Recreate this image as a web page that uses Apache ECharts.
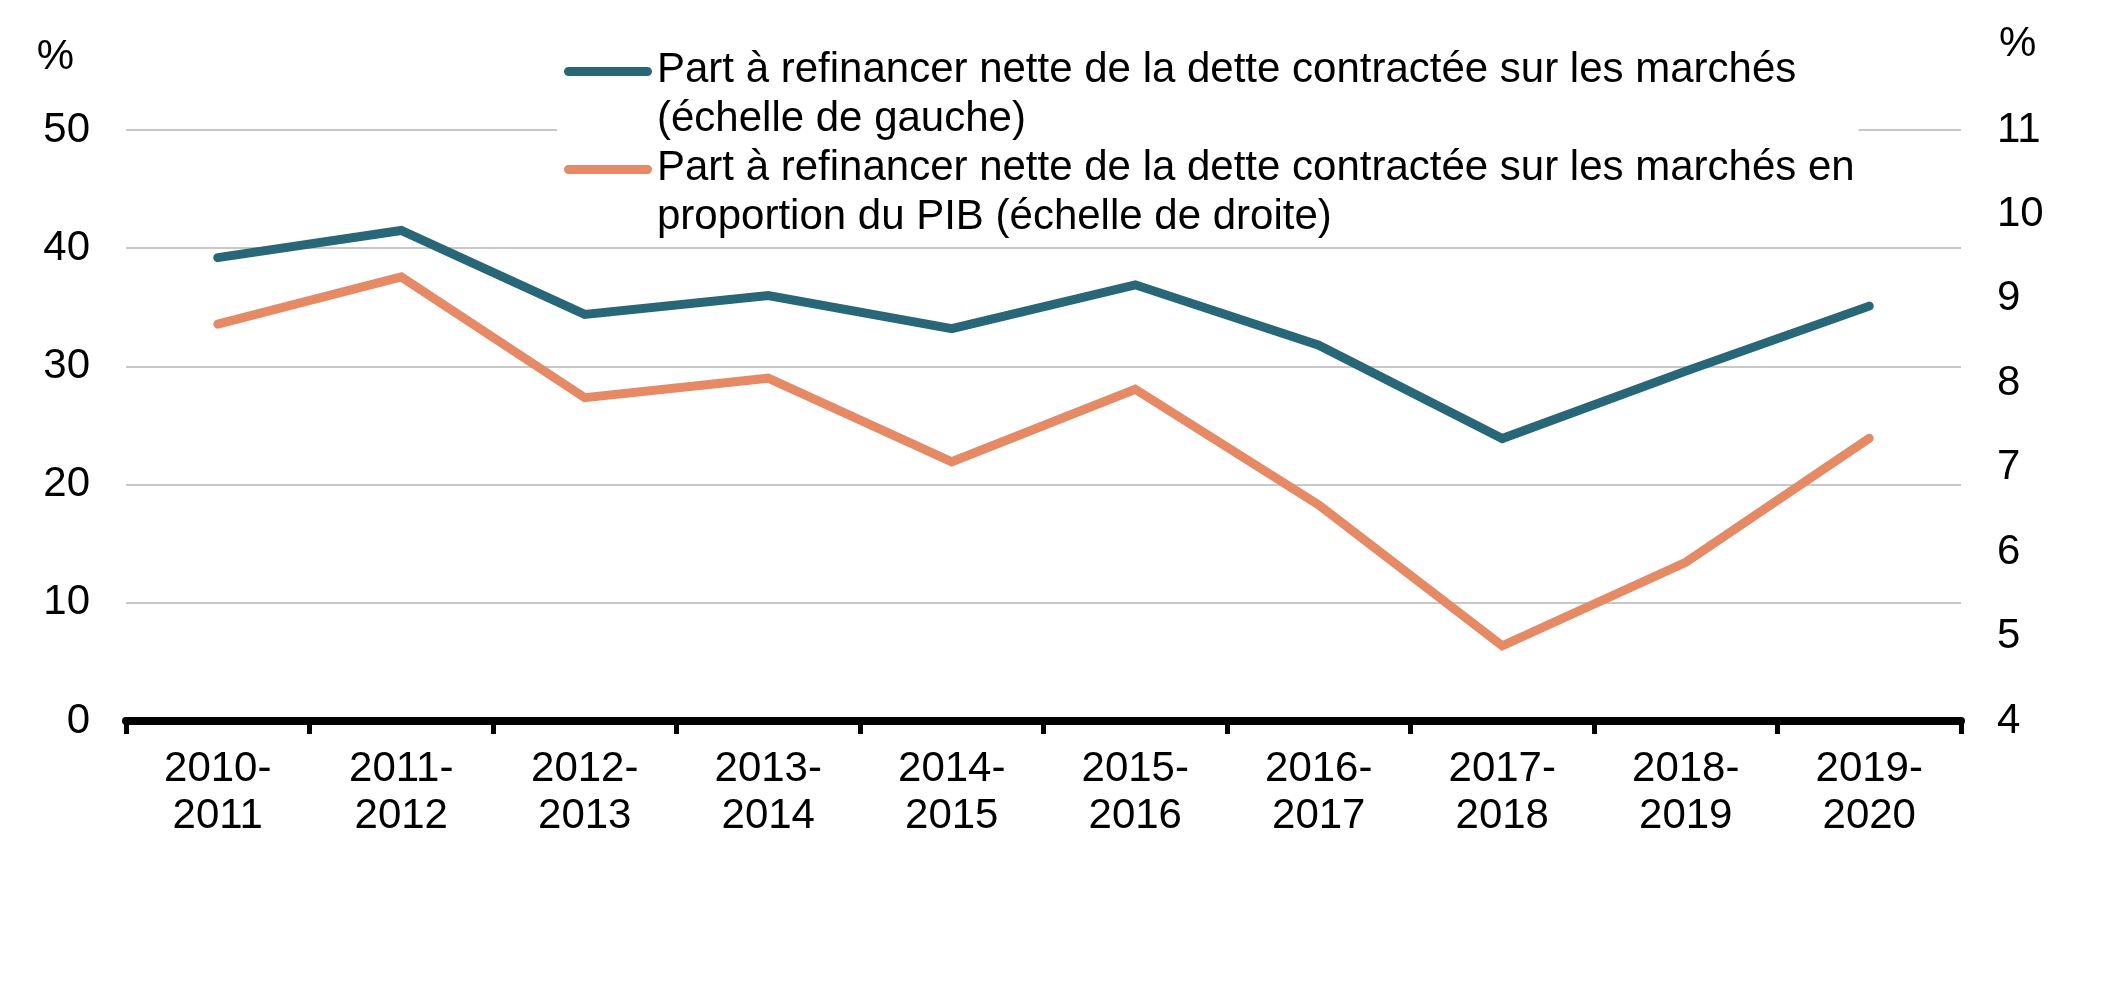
<!DOCTYPE html>
<html>
<head>
<meta charset="utf-8">
<script src="https://cdn.jsdelivr.net/npm/echarts@6/dist/echarts.min.js"></script>
<style>
  html, body { margin: 0; padding: 0; background: #ffffff; }
  #chart { width: 2103px; height: 997px; }
</style>
</head>
<body>
<div id="chart"></div>
<script>
// ---- Data ----
const categories = ['2010-2011', '2011-2012', '2012-2013', '2013-2014', '2014-2015',
                    '2015-2016', '2016-2017', '2017-2018', '2018-2019', '2019-2020'];
const shareName = 'Part à refinancer nette de la dette contractée sur les marchés\n(échelle de gauche)';
const gdpName = 'Part à refinancer nette de la dette contractée sur les marchés en\nproportion du PIB (échelle de droite)';
const shareValues = [39.2, 41.5, 34.4, 36.0, 33.2, 36.9, 31.8, 23.9, 29.6, 35.1];
const gdpValues = [8.70, 9.26, 7.83, 8.06, 7.07, 7.93, 6.56, 4.89, 5.88, 7.35];
const leftTicks = { min: 0, max: 50, interval: 10 };
const rightTicks = { min: 4, max: 11, interval: 1 };
const unitLabel = '%';

// ---- Style ----
const FONT = "'Liberation Sans', Arial, sans-serif";
const BLUE = '#286778';
const ORANGE = '#e68a65';
const swatchIcon = 'path://M0,0 L88,0 L0,0 Z M4.5,21 L83.5,21 A4.5,4.5 0 0 1 83.5,30 L4.5,30 A4.5,4.5 0 0 1 4.5,21 Z M0,98 L88,98 L0,98 Z';

const chart = echarts.init(document.getElementById('chart'), null, { renderer: 'canvas' });

chart.setOption({
  backgroundColor: '#ffffff',
  animation: false,
  textStyle: { fontFamily: FONT },
  grid: { left: 126, right: 142, top: 130, bottom: 276, containLabel: false },
  legend: {
    orient: 'vertical',
    left: 557,
    top: 41,
    padding: [5, 4, 5, 7],
    itemGap: 0,
    itemWidth: 88,
    itemHeight: 98,
    backgroundColor: '#ffffff',
    selectedMode: false,
    icon: swatchIcon,
    itemStyle: { borderWidth: 0 },
    textStyle: { fontFamily: FONT, fontSize: 42, lineHeight: 49, color: '#000000' },
    data: [
      { name: shareName, itemStyle: { color: BLUE } },
      { name: gdpName, itemStyle: { color: ORANGE } }
    ]
  },
  xAxis: {
    type: 'category',
    data: categories,
    boundaryGap: true,
    axisLine: { show: true, onZero: false, lineStyle: { color: '#000000', width: 8 } },
    axisTick: { show: true, alignWithLabel: false, length: 13, lineStyle: { color: '#000000', width: 5 } },
    axisLabel: {
      margin: 25,
      fontFamily: FONT, fontSize: 42, lineHeight: 47, color: '#000000',
      interval: 0,
      formatter: v => v.replace('-', '-\n')
    },
    splitLine: { show: false }
  },
  yAxis: [
    {
      type: 'value',
      position: 'left',
      min: leftTicks.min, max: leftTicks.max, interval: leftTicks.interval,
      name: unitLabel,
      nameLocation: 'end',
      nameGap: 73,
      nameTextStyle: { fontFamily: FONT, fontSize: 42, color: '#000000', align: 'right', verticalAlign: 'middle', padding: [0, 52, 0, 0] },
      axisLine: { show: false },
      axisTick: { show: false },
      axisLabel: { margin: 36, fontFamily: FONT, fontSize: 42, color: '#000000' },
      splitLine: { show: true, lineStyle: { color: '#c8c8c8', width: 2 } }
    },
    {
      type: 'value',
      position: 'right',
      min: rightTicks.min, max: rightTicks.max, interval: rightTicks.interval,
      name: unitLabel,
      nameLocation: 'end',
      nameGap: 86,
      nameTextStyle: { fontFamily: FONT, fontSize: 42, color: '#000000', align: 'left', verticalAlign: 'middle', padding: [0, 0, 0, 38] },
      axisLine: { show: false },
      axisTick: { show: false },
      axisLabel: { margin: 36, fontFamily: FONT, fontSize: 42, color: '#000000' },
      splitLine: { show: false }
    }
  ],
  series: [
    {
      name: shareName,
      type: 'line',
      yAxisIndex: 0,
      data: shareValues,
      showSymbol: false,
      symbol: 'none',
      color: BLUE,
      lineStyle: { color: BLUE, width: 9, cap: 'round', join: 'miter' },
      z: 3
    },
    {
      name: gdpName,
      type: 'line',
      yAxisIndex: 1,
      data: gdpValues,
      showSymbol: false,
      symbol: 'none',
      color: ORANGE,
      lineStyle: { color: ORANGE, width: 9, cap: 'round', join: 'miter' },
      z: 2
    }
  ]
});
</script>
</body>
</html>
